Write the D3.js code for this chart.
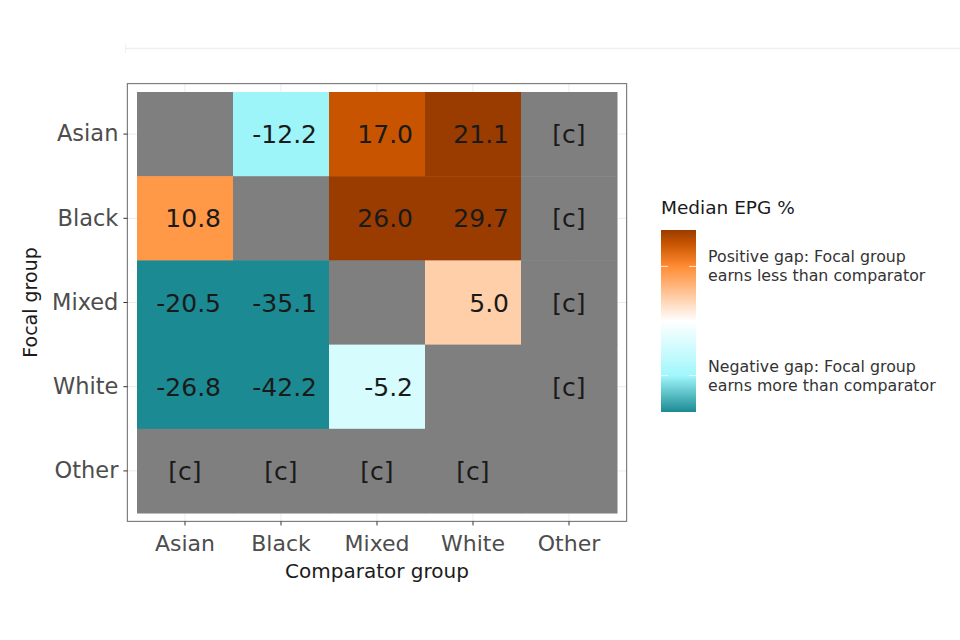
<!DOCTYPE html>
<html>
<head>
<meta charset="utf-8">
<script src="https://cdn.jsdelivr.net/npm/d3@7"></script>
<style>
  body { margin: 0; background: #fff; }
  text { font-family: "DejaVu Sans", sans-serif; }
</style>
</head>
<body>
<svg id="chart" width="960" height="640"></svg>
<script>
// categories
const comparators = ["Asian", "Black", "Mixed", "White", "Other"];
const focalGroups = ["Asian", "Black", "Mixed", "White", "Other"];
// median EPG % by focal group (rows) vs comparator (cols); null = same group, "c" = suppressed
const asianRow = [null, -12.2, 17.0, 21.1, "c"];
const blackRow = [10.8, null, 26.0, 29.7, "c"];
const mixedRow = [-20.5, -35.1, null, 5.0, "c"];
const whiteRow = [-26.8, -42.2, -5.2, null, "c"];
const otherRow = ["c", "c", "c", "c", null];
const rows = [asianRow, blackRow, mixedRow, whiteRow, otherRow];
// legend
const legendTitle = "Median EPG %";
const legendBreaks = [12, -12];
const legendLabels = [
  ["Positive gap: Focal group", "earns less than comparator"],
  ["Negative gap: Focal group", "earns more than comparator"]
];
const colourStops = [-20, -12, 0, 12, 17, 20];
const colourValues = ["#1b8a93", "#a0f7fc", "#ffffff", "#ff8c33", "#c85400", "#9a3c00"];

const cells = [];
rows.forEach((r, i) => r.forEach((v, j) => cells.push({ focal: focalGroups[i], comp: comparators[j], v })));

const svg = d3.select("#chart");

// faint page rule at the top
svg.append("line").attr("x1", 125).attr("x2", 960).attr("y1", 48.5).attr("y2", 48.5)
  .attr("stroke", "#f0f0f0").attr("stroke-width", 1.5);
svg.append("line").attr("x1", 125.5).attr("x2", 125.5).attr("y1", 44).attr("y2", 53)
  .attr("stroke", "#f0f0f0");

const x = d3.scaleBand().domain(comparators).range([137, 617]);
const y = d3.scaleBand().domain(focalGroups).range([92, 513]);
const padX = x.bandwidth() * 0.1, padY = y.bandwidth() * 0.1;
const px0 = x.range()[0] - padX, px1 = x.range()[1] + padX;
const py0 = y.range()[0] - padY, py1 = y.range()[1] + padY;

const colour = d3.scaleLinear().domain(colourStops).range(colourValues).clamp(true);

// panel grid
const g = svg.append("g");
g.append("rect").attr("x", px0).attr("y", py0).attr("width", px1 - px0).attr("height", py1 - py0).attr("fill", "#fff");
comparators.forEach(c => g.append("line")
  .attr("x1", x(c) + x.bandwidth() / 2).attr("x2", x(c) + x.bandwidth() / 2)
  .attr("y1", py0).attr("y2", py1).attr("stroke", "#ebebeb"));
focalGroups.forEach(f => g.append("line")
  .attr("y1", y(f) + y.bandwidth() / 2).attr("y2", y(f) + y.bandwidth() / 2)
  .attr("x1", px0).attr("x2", px1).attr("stroke", "#ebebeb"));

// tiles
g.selectAll("rect.tile").data(cells).enter().append("rect")
  .attr("class", "tile")
  .attr("x", d => x(d.comp)).attr("y", d => y(d.focal))
  .attr("width", x.bandwidth() + 0.5).attr("height", y.bandwidth() + 0.5)
  .attr("fill", d => typeof d.v === "number" ? colour(d.v) : "#7f7f7f");

// tile labels
g.selectAll("text.lab").data(cells.filter(d => d.v !== null)).enter().append("text")
  .attr("class", "lab")
  .attr("x", d => x(d.comp) + x.bandwidth() / 2 + (d.v === "c" ? 0 : 36))
  .attr("y", d => y(d.focal) + y.bandwidth() / 2 + 9)
  .attr("text-anchor", d => d.v === "c" ? "middle" : "end")
  .attr("font-size", 25).attr("fill", "#1a1a1a")
  .text(d => d.v === "c" ? "[c]" : d.v.toFixed(1));

// panel border
g.append("rect").attr("x", px0).attr("y", py0).attr("width", px1 - px0).attr("height", py1 - py0)
  .attr("fill", "none").attr("stroke", "#7f7f7f").attr("stroke-width", 1.2);

// axes
const xAxis = svg.append("g").attr("transform", `translate(0,${py1})`)
  .call(d3.axisBottom(x).tickSize(4));
xAxis.select(".domain").remove();
xAxis.selectAll("line").attr("stroke", "#333");
xAxis.selectAll("text").attr("font-size", 22).attr("fill", "#4d4d4d")
  .attr("y", 30).attr("dy", 0).attr("font-family", "DejaVu Sans, sans-serif");

const yAxis = svg.append("g").attr("transform", `translate(${px0},0)`)
  .call(d3.axisLeft(y).tickSize(4).tickPadding(5));
yAxis.select(".domain").remove();
yAxis.selectAll("line").attr("stroke", "#333");
yAxis.selectAll("text").attr("font-size", 22.5).attr("fill", "#4d4d4d")
  .attr("font-family", "DejaVu Sans, sans-serif");

svg.append("text").attr("x", (px0 + px1) / 2).attr("y", 578).attr("text-anchor", "middle")
  .attr("font-size", 20).attr("fill", "#1a1a1a").text("Comparator group");
svg.append("text").attr("transform", `translate(37,${(py0 + py1) / 2}) rotate(-90)`)
  .attr("text-anchor", "middle").attr("font-size", 19).attr("fill", "#1a1a1a").text("Focal group");

// legend
const lx = 661, lw = 35, ly0 = 230, ly1 = 412;
const ly = d3.scaleLinear().domain([20, -20]).range([ly0, ly1]);
const grad = svg.append("defs").append("linearGradient").attr("id", "grad")
  .attr("x1", 0).attr("x2", 0).attr("y1", 0).attr("y2", 1);
d3.range(20, -20.01, -1).forEach(s => grad.append("stop")
  .attr("offset", (ly(s) - ly0) / (ly1 - ly0)).attr("stop-color", colour(s)));
svg.append("text").attr("x", lx).attr("y", 214).attr("font-size", 18.5).attr("fill", "#1a1a1a").text(legendTitle);
svg.append("rect").attr("x", lx).attr("y", ly0).attr("width", lw).attr("height", ly1 - ly0).attr("fill", "url(#grad)");
legendBreaks.forEach((b, i) => {
  const yy = ly(b);
  svg.append("line").attr("x1", lx).attr("x2", lx + 7).attr("y1", yy).attr("y2", yy).attr("stroke", "#fff").attr("opacity", 0.8);
  svg.append("line").attr("x1", lx + lw - 7).attr("x2", lx + lw).attr("y1", yy).attr("y2", yy).attr("stroke", "#fff").attr("opacity", 0.8);
  const t = svg.append("text").attr("x", 708).attr("font-size", 15.8).attr("fill", "#333");
  legendLabels[i].forEach((line, k) => t.append("tspan").attr("x", 708)
    .attr("y", yy - 4 + k * 19).text(line));
});
</script>
</body>
</html>
